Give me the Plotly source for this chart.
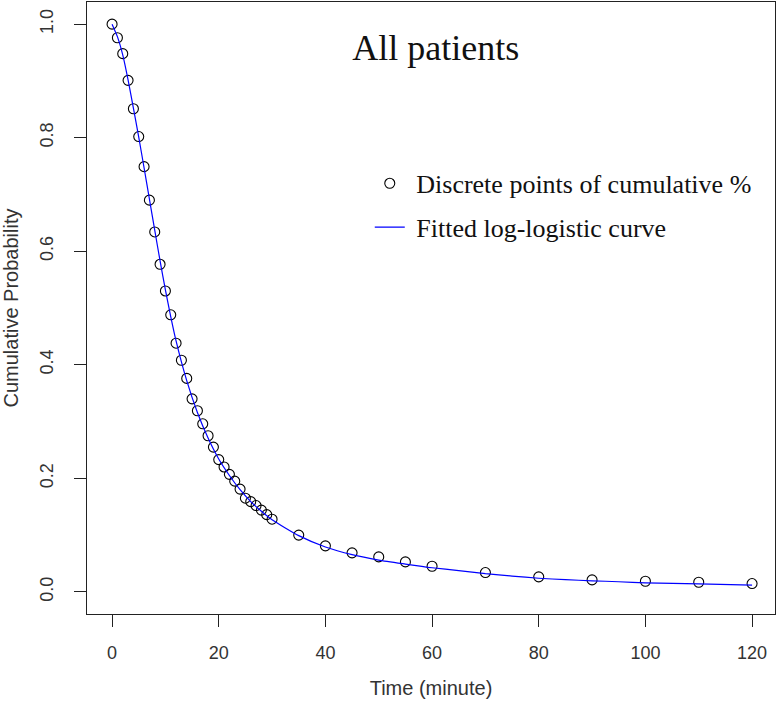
import plotly.graph_objects as go

# Observed cumulative probability (discrete points)
time_points = [0, 1, 2, 3, 4, 5, 6, 7, 8, 9, 10, 11, 12, 13, 14, 15, 16, 17, 18, 19, 20,
               21, 22, 23, 24, 25, 26, 27, 28, 29, 30, 35, 40, 45, 50, 55, 60, 70, 80,
               90, 100, 110, 120]
cum_prob = [1.000, 0.976, 0.948, 0.901, 0.851, 0.802, 0.749, 0.690, 0.634, 0.577, 0.530,
            0.488, 0.438, 0.408, 0.376, 0.340, 0.319, 0.296, 0.275, 0.255, 0.233,
            0.220, 0.207, 0.195, 0.181, 0.165, 0.159, 0.152, 0.144, 0.136, 0.128,
            0.100, 0.081, 0.0687, 0.0616, 0.0528, 0.0451, 0.034, 0.0264,
            0.0211, 0.0187, 0.0169, 0.0146]

# Fitted log-logistic curve
curve_time = [0, 1, 2, 3, 4, 5, 6, 7, 8, 9, 10, 11, 12, 14, 16, 18, 20, 22, 24, 26, 28, 30,
              35, 40, 45, 50, 55, 60, 65, 70, 75, 80, 85, 90, 95, 100, 110, 120]
curve_prob = [1.000, 0.978, 0.946, 0.902, 0.852, 0.801, 0.747, 0.692, 0.637, 0.583, 0.532,
              0.485, 0.442, 0.372, 0.316, 0.271, 0.234, 0.205, 0.180, 0.159, 0.142, 0.127,
              0.099, 0.079, 0.0655, 0.0560, 0.0490, 0.0425, 0.0375, 0.0320, 0.0278, 0.0240,
              0.0215, 0.0195, 0.0178, 0.0160, 0.0140, 0.0118]

x_ticks = [0, 20, 40, 60, 80, 100, 120]
y_ticks = [0.0, 0.2, 0.4, 0.6, 0.8, 1.0]
y_tick_labels = ["0.0", "0.2", "0.4", "0.6", "0.8", "1.0"]

NBSP = "\u00a0"

fig = go.Figure()
fig.add_trace(go.Scatter(
    x=time_points, y=cum_prob, mode="markers",
    name=NBSP + "Discrete points of cumulative %",
    legendgroup="a",
    marker=dict(symbol="circle-open", size=10, color="black", line=dict(width=1.1, color="black")),
))
fig.add_trace(go.Scatter(
    x=curve_time, y=curve_prob, mode="lines",
    name=NBSP + "Fitted log-logistic curve",
    legendgroup="b",
    line=dict(color="#0000ff", width=1.2, shape="spline", smoothing=0.6),
))

axis_common = dict(
    showgrid=False, zeroline=False, showline=True, mirror=True, automargin=False,
    linecolor="#222222", linewidth=1.3,
    ticks="outside", ticklen=12, tickwidth=1.2, tickcolor="#222222",
    tickfont=dict(family="Liberation Sans, Arial, sans-serif", size=18, color="#333333"),
)

fig.update_layout(
    width=780, height=703,
    margin=dict(l=87, r=5, t=2, b=89),
    paper_bgcolor="white", plot_bgcolor="white",
    title=dict(text="All patients", x=0.507, xref="paper", xanchor="center",
               y=1 - 47 / 703, yref="container", yanchor="middle",
               font=dict(family="Liberation Serif, Times New Roman, serif", size=36, color="#111111")),
    xaxis=dict(
        range=[-4.7, 124.3], tickvals=x_ticks, ticklabelstandoff=10,
        title=dict(text="Time (minute)", standoff=19,
                   font=dict(family="Liberation Sans, Arial, sans-serif", size=20, color="#333333")),
        **axis_common,
    ),
    yaxis=dict(
        range=[-0.039, 1.039], tickvals=y_ticks, ticktext=y_tick_labels, tickangle=-90,
        ticklabelstandoff=14,
        title=dict(text="Cumulative Probability", standoff=12,
                   font=dict(family="Liberation Sans, Arial, sans-serif", size=20, color="#333333")),
        **axis_common,
    ),
    legend=dict(
        x=0.411, y=0.742, xanchor="left", yanchor="top",
        bgcolor="rgba(0,0,0,0)", borderwidth=0,
        traceorder="grouped", tracegroupgap=7,
        font=dict(family="Liberation Serif, Times New Roman, serif", size=26, color="#111111"),
    ),
    showlegend=True,
)

# remove the browser's default 8px page margin so the figure starts at the window corner
fig.write_html(
    "out.html",
    config={"displayModeBar": False},
    post_script="document.body.style.margin='0px';document.body.style.overflow='hidden';",
)
